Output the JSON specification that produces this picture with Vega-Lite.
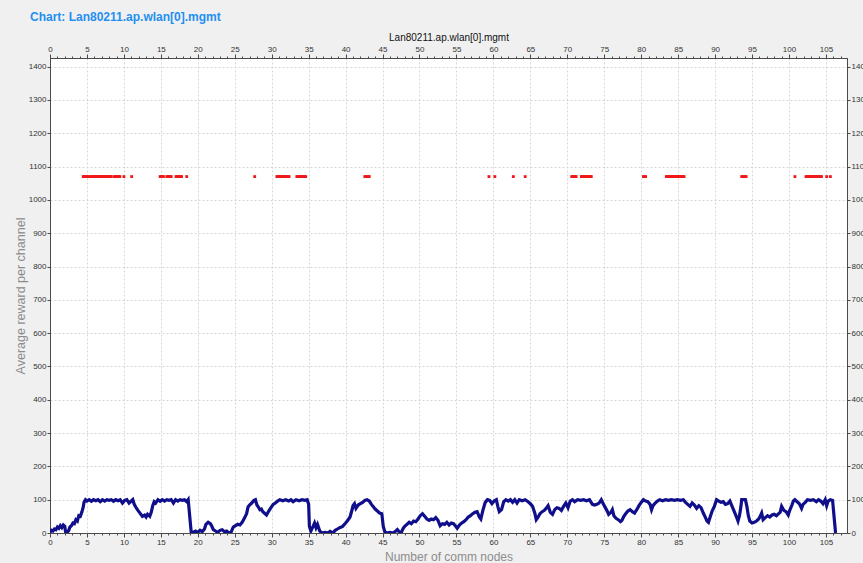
{
  "$schema": "https://vega.github.io/schema/vega-lite/v6.json",
  "width": 797,
  "height": 475,
  "autosize": {"type": "none"},
  "padding": {"left": 50, "top": 58, "right": 16, "bottom": 30},
  "background": "#f0f0f0",
  "title": {
    "text": "Chart: Lan80211.ap.wlan[0].mgmt",
    "anchor": "start",
    "frame": "group",
    "dx": -20,
    "offset": 8,
    "font": "Liberation Sans",
    "fontSize": 12,
    "fontWeight": "bold",
    "color": "#1f8ff0"
  },
  "config": {
    "view": {"fill": "white", "stroke": "#4a4a4a", "strokeWidth": 1},
    "axis": {
      "labelFont": "Liberation Sans",
      "labelFontSize": 8,
      "labelColor": "#333333",
      "titleFont": "Liberation Sans",
      "titleFontWeight": "normal",
      "domainColor": "#4a4a4a",
      "tickColor": "#4a4a4a",
      "gridColor": "#d6d6d6",
      "gridDash": [2, 2]
    }
  },
  "datasets": {
    "reward": [
      {"node": 0, "reward": 2}, {"node": 0.2, "reward": 8}, {"node": 0.4, "reward": 6}, {"node": 0.6, "reward": 12},
      {"node": 0.8, "reward": 10}, {"node": 1.0, "reward": 18}, {"node": 1.2, "reward": 14}, {"node": 1.4, "reward": 22},
      {"node": 1.6, "reward": 16}, {"node": 1.8, "reward": 24}, {"node": 2.0, "reward": 20}, {"node": 2.1, "reward": 4},
      {"node": 2.3, "reward": 2}, {"node": 2.5, "reward": 6}, {"node": 2.7, "reward": 18}, {"node": 2.9, "reward": 22},
      {"node": 3.1, "reward": 30}, {"node": 3.3, "reward": 28}, {"node": 3.5, "reward": 40}, {"node": 3.7, "reward": 36},
      {"node": 3.9, "reward": 52}, {"node": 4.1, "reward": 50}, {"node": 4.3, "reward": 62}, {"node": 4.5, "reward": 78},
      {"node": 4.6, "reward": 92}, {"node": 4.8, "reward": 100}, {"node": 5.0, "reward": 96}, {"node": 5.3, "reward": 100},
      {"node": 5.6, "reward": 95}, {"node": 5.9, "reward": 100}, {"node": 6.2, "reward": 97}, {"node": 6.5, "reward": 100},
      {"node": 6.8, "reward": 94}, {"node": 7.1, "reward": 100}, {"node": 7.4, "reward": 96}, {"node": 7.7, "reward": 100},
      {"node": 8.0, "reward": 98}, {"node": 8.3, "reward": 100}, {"node": 8.6, "reward": 95}, {"node": 8.9, "reward": 100},
      {"node": 9.2, "reward": 97}, {"node": 9.5, "reward": 100}, {"node": 9.8, "reward": 90}, {"node": 10.1, "reward": 98},
      {"node": 10.4, "reward": 100}, {"node": 10.7, "reward": 90}, {"node": 11.0, "reward": 96}, {"node": 11.2, "reward": 100},
      {"node": 11.4, "reward": 86}, {"node": 11.6, "reward": 78}, {"node": 11.9, "reward": 68}, {"node": 12.1, "reward": 62},
      {"node": 12.3, "reward": 56}, {"node": 12.5, "reward": 50}, {"node": 12.8, "reward": 54}, {"node": 13.0, "reward": 48},
      {"node": 13.2, "reward": 56}, {"node": 13.5, "reward": 50}, {"node": 13.7, "reward": 62}, {"node": 13.9, "reward": 82},
      {"node": 14.1, "reward": 94}, {"node": 14.3, "reward": 90}, {"node": 14.6, "reward": 100}, {"node": 14.9, "reward": 95},
      {"node": 15.2, "reward": 100}, {"node": 15.5, "reward": 96}, {"node": 15.8, "reward": 100}, {"node": 16.1, "reward": 98},
      {"node": 16.4, "reward": 100}, {"node": 16.7, "reward": 90}, {"node": 17.0, "reward": 100}, {"node": 17.3, "reward": 96},
      {"node": 17.6, "reward": 100}, {"node": 17.9, "reward": 98}, {"node": 18.2, "reward": 100}, {"node": 18.5, "reward": 94},
      {"node": 18.7, "reward": 100}, {"node": 19.1, "reward": 4}, {"node": 19.4, "reward": 2}, {"node": 19.7, "reward": 6},
      {"node": 20.0, "reward": 2}, {"node": 20.3, "reward": 8}, {"node": 20.6, "reward": 4}, {"node": 20.9, "reward": 12},
      {"node": 21.1, "reward": 26}, {"node": 21.4, "reward": 32}, {"node": 21.7, "reward": 28}, {"node": 21.9, "reward": 20},
      {"node": 22.1, "reward": 10}, {"node": 22.4, "reward": 6}, {"node": 22.7, "reward": 2}, {"node": 23.0, "reward": 8},
      {"node": 23.3, "reward": 10}, {"node": 23.6, "reward": 4}, {"node": 23.9, "reward": 6}, {"node": 24.2, "reward": 0},
      {"node": 24.5, "reward": 2}, {"node": 24.8, "reward": 18}, {"node": 25.1, "reward": 22}, {"node": 25.4, "reward": 26},
      {"node": 25.7, "reward": 24}, {"node": 26.0, "reward": 32}, {"node": 26.3, "reward": 44}, {"node": 26.6, "reward": 58},
      {"node": 26.8, "reward": 78}, {"node": 27.0, "reward": 84}, {"node": 27.3, "reward": 90}, {"node": 27.6, "reward": 98},
      {"node": 27.8, "reward": 100}, {"node": 28.0, "reward": 84}, {"node": 28.2, "reward": 78}, {"node": 28.4, "reward": 70},
      {"node": 28.6, "reward": 72}, {"node": 28.8, "reward": 64}, {"node": 29.0, "reward": 60}, {"node": 29.3, "reward": 54},
      {"node": 29.6, "reward": 66}, {"node": 29.9, "reward": 76}, {"node": 30.2, "reward": 86}, {"node": 30.5, "reward": 90},
      {"node": 30.8, "reward": 96}, {"node": 31.1, "reward": 100}, {"node": 31.5, "reward": 97}, {"node": 31.9, "reward": 100},
      {"node": 32.3, "reward": 96}, {"node": 32.6, "reward": 100}, {"node": 32.9, "reward": 94}, {"node": 33.3, "reward": 100},
      {"node": 33.7, "reward": 97}, {"node": 34.1, "reward": 100}, {"node": 34.5, "reward": 98}, {"node": 34.8, "reward": 100},
      {"node": 35.0, "reward": 86}, {"node": 35.1, "reward": 20}, {"node": 35.3, "reward": 6}, {"node": 35.6, "reward": 20},
      {"node": 35.8, "reward": 30}, {"node": 36.0, "reward": 16}, {"node": 36.2, "reward": 26}, {"node": 36.5, "reward": 6},
      {"node": 36.8, "reward": 0}, {"node": 37.2, "reward": 2}, {"node": 37.6, "reward": 0}, {"node": 37.9, "reward": 5},
      {"node": 38.3, "reward": 0}, {"node": 38.6, "reward": 8}, {"node": 38.9, "reward": 12}, {"node": 39.2, "reward": 16},
      {"node": 39.6, "reward": 20}, {"node": 40.0, "reward": 30}, {"node": 40.3, "reward": 38}, {"node": 40.6, "reward": 48},
      {"node": 40.9, "reward": 72}, {"node": 41.0, "reward": 82}, {"node": 41.2, "reward": 88}, {"node": 41.4, "reward": 74},
      {"node": 41.7, "reward": 84}, {"node": 42.0, "reward": 88}, {"node": 42.3, "reward": 92}, {"node": 42.6, "reward": 98},
      {"node": 42.9, "reward": 100}, {"node": 43.2, "reward": 96}, {"node": 43.5, "reward": 86}, {"node": 43.7, "reward": 80},
      {"node": 44.0, "reward": 72}, {"node": 44.3, "reward": 66}, {"node": 44.6, "reward": 60}, {"node": 44.9, "reward": 58},
      {"node": 45.1, "reward": 20}, {"node": 45.3, "reward": 4}, {"node": 45.6, "reward": 0}, {"node": 46.0, "reward": 2},
      {"node": 46.4, "reward": 0}, {"node": 46.8, "reward": 6}, {"node": 47.0, "reward": 10}, {"node": 47.3, "reward": 2},
      {"node": 47.5, "reward": 0}, {"node": 47.8, "reward": 14}, {"node": 48.0, "reward": 20}, {"node": 48.3, "reward": 26},
      {"node": 48.6, "reward": 32}, {"node": 48.9, "reward": 28}, {"node": 49.2, "reward": 36}, {"node": 49.5, "reward": 34},
      {"node": 49.8, "reward": 42}, {"node": 50.1, "reward": 52}, {"node": 50.4, "reward": 58}, {"node": 50.7, "reward": 50},
      {"node": 51.0, "reward": 42}, {"node": 51.3, "reward": 38}, {"node": 51.6, "reward": 42}, {"node": 51.9, "reward": 40},
      {"node": 52.2, "reward": 46}, {"node": 52.5, "reward": 38}, {"node": 52.8, "reward": 22}, {"node": 53.1, "reward": 28},
      {"node": 53.4, "reward": 26}, {"node": 53.7, "reward": 32}, {"node": 54.0, "reward": 24}, {"node": 54.3, "reward": 30},
      {"node": 54.6, "reward": 28}, {"node": 54.9, "reward": 20}, {"node": 55.1, "reward": 14}, {"node": 55.4, "reward": 24},
      {"node": 55.7, "reward": 30}, {"node": 56.0, "reward": 34}, {"node": 56.3, "reward": 40}, {"node": 56.6, "reward": 48},
      {"node": 56.9, "reward": 52}, {"node": 57.2, "reward": 58}, {"node": 57.5, "reward": 62}, {"node": 57.8, "reward": 64},
      {"node": 58.1, "reward": 48}, {"node": 58.3, "reward": 42}, {"node": 58.6, "reward": 70}, {"node": 58.9, "reward": 92},
      {"node": 59.2, "reward": 100}, {"node": 59.5, "reward": 98}, {"node": 59.8, "reward": 88}, {"node": 60.1, "reward": 96},
      {"node": 60.4, "reward": 100}, {"node": 60.6, "reward": 80}, {"node": 60.8, "reward": 64}, {"node": 61.1, "reward": 70},
      {"node": 61.4, "reward": 94}, {"node": 61.7, "reward": 100}, {"node": 62.0, "reward": 96}, {"node": 62.3, "reward": 100},
      {"node": 62.6, "reward": 92}, {"node": 62.9, "reward": 100}, {"node": 63.2, "reward": 90}, {"node": 63.5, "reward": 100},
      {"node": 63.9, "reward": 97}, {"node": 64.3, "reward": 100}, {"node": 64.7, "reward": 94}, {"node": 65.0, "reward": 88},
      {"node": 65.3, "reward": 80}, {"node": 65.6, "reward": 60}, {"node": 65.8, "reward": 40}, {"node": 66.0, "reward": 46},
      {"node": 66.3, "reward": 58}, {"node": 66.6, "reward": 64}, {"node": 66.9, "reward": 68}, {"node": 67.2, "reward": 76},
      {"node": 67.4, "reward": 82}, {"node": 67.7, "reward": 62}, {"node": 68.0, "reward": 56}, {"node": 68.3, "reward": 70},
      {"node": 68.6, "reward": 76}, {"node": 68.9, "reward": 74}, {"node": 69.2, "reward": 68}, {"node": 69.5, "reward": 80},
      {"node": 69.8, "reward": 90}, {"node": 70.1, "reward": 76}, {"node": 70.4, "reward": 96}, {"node": 70.7, "reward": 100},
      {"node": 71.0, "reward": 94}, {"node": 71.4, "reward": 100}, {"node": 71.8, "reward": 98}, {"node": 72.2, "reward": 100},
      {"node": 72.6, "reward": 97}, {"node": 73.0, "reward": 100}, {"node": 73.4, "reward": 86}, {"node": 73.7, "reward": 84},
      {"node": 74.0, "reward": 86}, {"node": 74.3, "reward": 90}, {"node": 74.6, "reward": 100}, {"node": 74.9, "reward": 86},
      {"node": 75.2, "reward": 74}, {"node": 75.4, "reward": 66}, {"node": 75.6, "reward": 56}, {"node": 75.9, "reward": 62},
      {"node": 76.1, "reward": 70}, {"node": 76.3, "reward": 52}, {"node": 76.6, "reward": 44}, {"node": 76.9, "reward": 40},
      {"node": 77.2, "reward": 34}, {"node": 77.4, "reward": 38}, {"node": 77.6, "reward": 48}, {"node": 77.9, "reward": 58},
      {"node": 78.2, "reward": 66}, {"node": 78.5, "reward": 70}, {"node": 78.8, "reward": 64}, {"node": 79.1, "reward": 60},
      {"node": 79.4, "reward": 70}, {"node": 79.7, "reward": 82}, {"node": 80.0, "reward": 92}, {"node": 80.3, "reward": 100},
      {"node": 80.6, "reward": 96}, {"node": 80.9, "reward": 94}, {"node": 81.2, "reward": 86}, {"node": 81.4, "reward": 70},
      {"node": 81.6, "reward": 82}, {"node": 81.9, "reward": 90}, {"node": 82.2, "reward": 96}, {"node": 82.5, "reward": 100},
      {"node": 82.9, "reward": 97}, {"node": 83.3, "reward": 100}, {"node": 83.7, "reward": 98}, {"node": 84.1, "reward": 100},
      {"node": 84.5, "reward": 98}, {"node": 84.9, "reward": 100}, {"node": 85.3, "reward": 98}, {"node": 85.7, "reward": 100},
      {"node": 86.0, "reward": 92}, {"node": 86.3, "reward": 86}, {"node": 86.6, "reward": 80}, {"node": 86.9, "reward": 90},
      {"node": 87.2, "reward": 84}, {"node": 87.5, "reward": 74}, {"node": 87.8, "reward": 82}, {"node": 88.1, "reward": 76},
      {"node": 88.4, "reward": 60}, {"node": 88.7, "reward": 46}, {"node": 88.9, "reward": 36}, {"node": 89.1, "reward": 32},
      {"node": 89.3, "reward": 46}, {"node": 89.6, "reward": 66}, {"node": 89.9, "reward": 80}, {"node": 90.2, "reward": 100},
      {"node": 90.5, "reward": 96}, {"node": 90.8, "reward": 92}, {"node": 91.1, "reward": 94}, {"node": 91.4, "reward": 86},
      {"node": 91.7, "reward": 88}, {"node": 92.0, "reward": 96}, {"node": 92.3, "reward": 80}, {"node": 92.6, "reward": 64},
      {"node": 92.9, "reward": 48}, {"node": 93.1, "reward": 36}, {"node": 93.3, "reward": 52}, {"node": 93.5, "reward": 80},
      {"node": 93.6, "reward": 100}, {"node": 94.1, "reward": 100}, {"node": 94.3, "reward": 80}, {"node": 94.5, "reward": 52},
      {"node": 94.7, "reward": 36}, {"node": 95.0, "reward": 30}, {"node": 95.3, "reward": 32}, {"node": 95.6, "reward": 36},
      {"node": 95.9, "reward": 42}, {"node": 96.1, "reward": 50}, {"node": 96.3, "reward": 60}, {"node": 96.5, "reward": 40},
      {"node": 96.8, "reward": 46}, {"node": 97.1, "reward": 52}, {"node": 97.4, "reward": 48}, {"node": 97.7, "reward": 54},
      {"node": 98.0, "reward": 56}, {"node": 98.3, "reward": 52}, {"node": 98.6, "reward": 58}, {"node": 98.8, "reward": 62},
      {"node": 99.0, "reward": 80}, {"node": 99.3, "reward": 68}, {"node": 99.6, "reward": 64}, {"node": 99.9, "reward": 54},
      {"node": 100.1, "reward": 68}, {"node": 100.4, "reward": 84}, {"node": 100.6, "reward": 96}, {"node": 100.8, "reward": 100},
      {"node": 101.1, "reward": 94}, {"node": 101.4, "reward": 88}, {"node": 101.7, "reward": 74}, {"node": 101.9, "reward": 86},
      {"node": 102.2, "reward": 92}, {"node": 102.5, "reward": 100}, {"node": 102.9, "reward": 98}, {"node": 103.3, "reward": 100},
      {"node": 103.7, "reward": 94}, {"node": 104.0, "reward": 100}, {"node": 104.3, "reward": 96}, {"node": 104.6, "reward": 88},
      {"node": 104.9, "reward": 100}, {"node": 105.1, "reward": 82}, {"node": 105.3, "reward": 96}, {"node": 105.6, "reward": 100},
      {"node": 105.9, "reward": 98}, {"node": 106.3, "reward": 0}
    ],
    "events": [
      {"node": 4.5, "value": 1070}, {"node": 4.65, "value": 1070}, {"node": 4.8, "value": 1070}, {"node": 5.0, "value": 1070},
      {"node": 5.15, "value": 1070}, {"node": 5.3, "value": 1070}, {"node": 5.6, "value": 1070}, {"node": 5.75, "value": 1070},
      {"node": 5.9, "value": 1070}, {"node": 6.05, "value": 1070}, {"node": 6.2, "value": 1070}, {"node": 6.35, "value": 1070},
      {"node": 6.5, "value": 1070}, {"node": 6.65, "value": 1070}, {"node": 6.8, "value": 1070}, {"node": 6.95, "value": 1070},
      {"node": 7.1, "value": 1070}, {"node": 7.25, "value": 1070}, {"node": 7.4, "value": 1070}, {"node": 7.55, "value": 1070},
      {"node": 7.7, "value": 1070}, {"node": 7.85, "value": 1070}, {"node": 8.0, "value": 1070}, {"node": 8.15, "value": 1070},
      {"node": 8.3, "value": 1070}, {"node": 8.7, "value": 1070}, {"node": 8.85, "value": 1070}, {"node": 9.0, "value": 1070},
      {"node": 9.15, "value": 1070}, {"node": 9.3, "value": 1070}, {"node": 9.45, "value": 1070}, {"node": 10.0, "value": 1070},
      {"node": 11.05, "value": 1070}, {"node": 14.9, "value": 1070}, {"node": 15.05, "value": 1070}, {"node": 15.2, "value": 1070},
      {"node": 15.35, "value": 1070}, {"node": 15.8, "value": 1070}, {"node": 15.95, "value": 1070}, {"node": 16.1, "value": 1070},
      {"node": 16.25, "value": 1070}, {"node": 16.4, "value": 1070}, {"node": 17.05, "value": 1070}, {"node": 17.2, "value": 1070},
      {"node": 17.35, "value": 1070}, {"node": 17.5, "value": 1070}, {"node": 17.65, "value": 1070}, {"node": 17.8, "value": 1070},
      {"node": 18.5, "value": 1070}, {"node": 27.7, "value": 1070}, {"node": 30.7, "value": 1070}, {"node": 30.85, "value": 1070},
      {"node": 31.0, "value": 1070}, {"node": 31.15, "value": 1070}, {"node": 31.3, "value": 1070}, {"node": 31.45, "value": 1070},
      {"node": 31.6, "value": 1070}, {"node": 31.75, "value": 1070}, {"node": 31.9, "value": 1070}, {"node": 32.05, "value": 1070},
      {"node": 32.2, "value": 1070}, {"node": 32.35, "value": 1070}, {"node": 33.4, "value": 1070}, {"node": 33.55, "value": 1070},
      {"node": 33.7, "value": 1070}, {"node": 33.85, "value": 1070}, {"node": 34.0, "value": 1070}, {"node": 34.15, "value": 1070},
      {"node": 34.3, "value": 1070}, {"node": 34.45, "value": 1070}, {"node": 34.6, "value": 1070}, {"node": 42.6, "value": 1070},
      {"node": 42.75, "value": 1070}, {"node": 42.9, "value": 1070}, {"node": 43.05, "value": 1070}, {"node": 43.2, "value": 1070},
      {"node": 59.4, "value": 1070}, {"node": 60.2, "value": 1070}, {"node": 62.7, "value": 1070}, {"node": 64.3, "value": 1070},
      {"node": 70.6, "value": 1070}, {"node": 70.75, "value": 1070}, {"node": 70.9, "value": 1070}, {"node": 71.05, "value": 1070},
      {"node": 71.2, "value": 1070}, {"node": 71.9, "value": 1070}, {"node": 72.05, "value": 1070}, {"node": 72.2, "value": 1070},
      {"node": 72.35, "value": 1070}, {"node": 72.5, "value": 1070}, {"node": 72.65, "value": 1070}, {"node": 72.8, "value": 1070},
      {"node": 72.95, "value": 1070}, {"node": 73.1, "value": 1070}, {"node": 73.25, "value": 1070}, {"node": 80.3, "value": 1070},
      {"node": 80.45, "value": 1070}, {"node": 80.6, "value": 1070}, {"node": 83.4, "value": 1070}, {"node": 83.55, "value": 1070},
      {"node": 83.7, "value": 1070}, {"node": 83.85, "value": 1070}, {"node": 84.0, "value": 1070}, {"node": 84.15, "value": 1070},
      {"node": 84.3, "value": 1070}, {"node": 84.45, "value": 1070}, {"node": 84.6, "value": 1070}, {"node": 84.75, "value": 1070},
      {"node": 84.9, "value": 1070}, {"node": 85.05, "value": 1070}, {"node": 85.2, "value": 1070}, {"node": 85.35, "value": 1070},
      {"node": 85.5, "value": 1070}, {"node": 85.65, "value": 1070}, {"node": 85.8, "value": 1070}, {"node": 93.6, "value": 1070},
      {"node": 93.75, "value": 1070}, {"node": 93.9, "value": 1070}, {"node": 94.05, "value": 1070}, {"node": 94.2, "value": 1070},
      {"node": 100.8, "value": 1070}, {"node": 102.3, "value": 1070}, {"node": 102.45, "value": 1070}, {"node": 102.6, "value": 1070},
      {"node": 102.75, "value": 1070}, {"node": 102.9, "value": 1070}, {"node": 103.05, "value": 1070}, {"node": 103.2, "value": 1070},
      {"node": 103.35, "value": 1070}, {"node": 103.5, "value": 1070}, {"node": 103.65, "value": 1070}, {"node": 103.8, "value": 1070},
      {"node": 103.95, "value": 1070}, {"node": 104.1, "value": 1070}, {"node": 104.25, "value": 1070}, {"node": 104.4, "value": 1070},
      {"node": 105.1, "value": 1070}, {"node": 105.6, "value": 1070}
    ]
  },
  "layer": [
    {
      "data": {"name": "reward"},
      "mark": {"type": "line", "color": "#0f0f8c", "strokeWidth": 3.2, "strokeJoin": "miter", "clip": true},
      "encoding": {
        "x": {
          "field": "node",
          "type": "quantitative",
          "scale": {"domain": [0, 107.85], "nice": false, "zero": false},
          "axis": {
            "orient": "bottom",
            "title": "Number of comm nodes",
            "titleFontSize": 12,
            "titleColor": "#8c8c8c",
            "titlePadding": 5,
            "values": [0,1,2,3,4,5,6,7,8,9,10,11,12,13,14,15,16,17,18,19,20,21,22,23,24,25,26,27,28,29,30,31,32,33,34,35,36,37,38,39,40,41,42,43,44,45,46,47,48,49,50,51,52,53,54,55,56,57,58,59,60,61,62,63,64,65,66,67,68,69,70,71,72,73,74,75,76,77,78,79,80,81,82,83,84,85,86,87,88,89,90,91,92,93,94,95,96,97,98,99,100,101,102,103,104,105,106,107],
            "format": "d",
            "labelExpr": "datum.value % 5 === 0 ? datum.label : ''",
            "labelFlush": false,
            "labelOverlap": false,
            "labelPadding": 1,
            "tickSize": {"condition": {"test": "datum.value % 5 === 0", "value": 4}, "value": 2},
            "gridOpacity": {"condition": {"test": "datum.value % 5 === 0", "value": 1}, "value": 0},
            "grid": true
          }
        },
        "y": {
          "field": "reward",
          "type": "quantitative",
          "scale": {"domain": [0, 1426], "nice": false, "zero": false},
          "axis": {
            "orient": "left",
            "title": "Average reward per channel",
            "titleFontSize": 12.5,
            "titleColor": "#8c8c8c",
            "titlePadding": 1,
            "values": [0,100,200,300,400,500,600,700,800,900,1000,1100,1200,1300,1400],
            "format": "d",
            "tickSize": 3,
            "labelPadding": 1,
            "grid": true
          }
        }
      }
    },
    {
      "data": {"name": "events"},
      "mark": {"type": "point", "shape": "square", "filled": true, "size": 8, "color": "#f01818", "opacity": 1},
      "encoding": {
        "x": {
          "field": "node",
          "type": "quantitative",
          "axis": {
            "orient": "top",
            "title": "Lan80211.ap.wlan[0].mgmt",
            "titleFontSize": 10,
            "titleColor": "#111111",
            "titlePadding": 3,
            "values": [0,1,2,3,4,5,6,7,8,9,10,11,12,13,14,15,16,17,18,19,20,21,22,23,24,25,26,27,28,29,30,31,32,33,34,35,36,37,38,39,40,41,42,43,44,45,46,47,48,49,50,51,52,53,54,55,56,57,58,59,60,61,62,63,64,65,66,67,68,69,70,71,72,73,74,75,76,77,78,79,80,81,82,83,84,85,86,87,88,89,90,91,92,93,94,95,96,97,98,99,100,101,102,103,104,105,106,107],
            "format": "d",
            "labelExpr": "datum.value % 5 === 0 ? datum.label : ''",
            "labelFlush": false,
            "labelOverlap": false,
            "labelPadding": 1,
            "tickSize": {"condition": {"test": "datum.value % 5 === 0", "value": 4}, "value": 2},
            "grid": false
          }
        },
        "y": {
          "field": "value",
          "type": "quantitative",
          "axis": {
            "orient": "right",
            "title": null,
            "values": [0,100,200,300,400,500,600,700,800,900,1000,1100,1200,1300,1400],
            "format": "d",
            "tickSize": 3,
            "labelPadding": 1,
            "grid": false
          }
        }
      }
    }
  ],
  "resolve": {"axis": {"x": "independent", "y": "independent"}}
}
